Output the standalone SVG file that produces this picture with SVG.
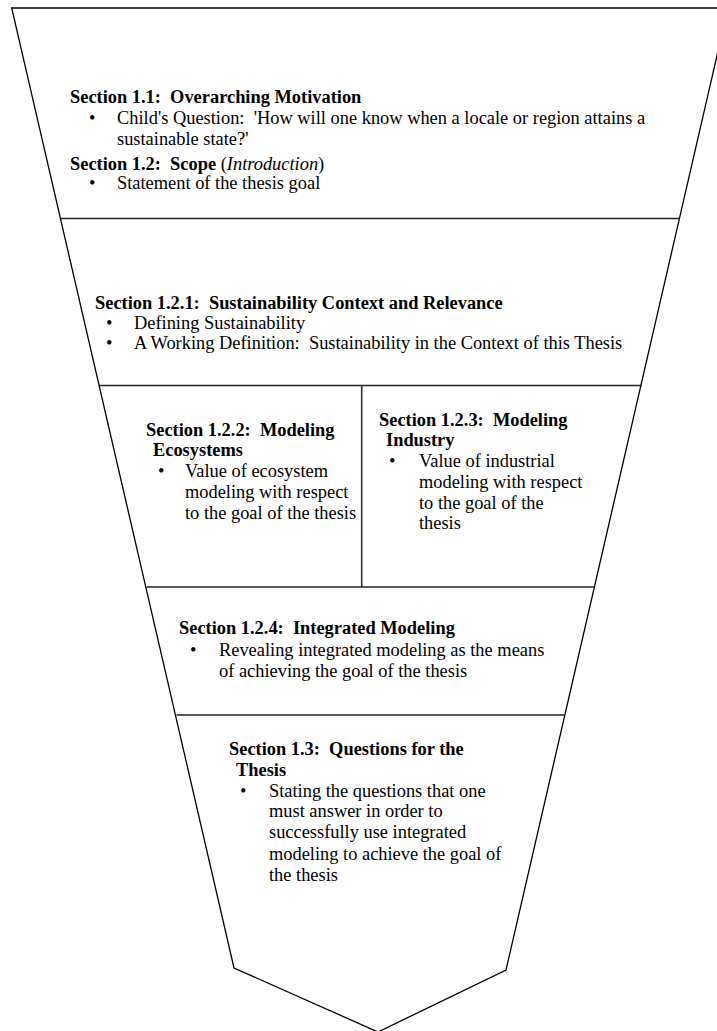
<svg xmlns="http://www.w3.org/2000/svg" width="717" height="1031" viewBox="0 0 717 1031" xml:space="preserve">
  <style>
    .t { font-family: "Liberation Serif", "Times New Roman", serif; font-size: 18.4px; fill: #000; white-space: pre; }
    .b { font-weight: bold; }
    .i { font-style: italic; }
    .edge { fill: none; stroke: #000; stroke-width: 1.3; }
    .rule { fill: none; stroke: #222; stroke-width: 1.4; }
    .div { fill: none; stroke: #333; stroke-width: 1.6; }
  </style>
  <rect width="717" height="1031" fill="#fff"/>

  <!-- funnel outline and section dividers -->
  <g id="connectors">
    <polygon class="edge" points="11.7,8 728,8 506,970 378,1032 234,968"/>
    <line class="rule" x1="60.7" y1="218.5" x2="680" y2="218.5"/>
    <line class="rule" x1="99.3" y1="385.5" x2="641.7" y2="385.5"/>
    <line class="div" x1="361.7" y1="385.5" x2="361.7" y2="587"/>
    <line class="rule" x1="146.5" y1="587" x2="594" y2="587"/>
    <line class="rule" x1="176.5" y1="715" x2="565" y2="715"/>
  </g>

  <g id="sec-1-1">
    <text class="t b" x="70" y="103">Section 1.1:  Overarching Motivation</text>
    <text class="t" x="89" y="124">•</text>
    <text class="t" x="117" y="124">Child's Question:  'How will one know when a locale or region attains a</text>
    <text class="t" x="117" y="145">sustainable state?'</text>
    <text class="t" x="70" y="170"><tspan class="b">Section 1.2:  Scope</tspan> (<tspan class="i">Introduction</tspan>)</text>
    <text class="t" x="89" y="189">•</text>
    <text class="t" x="117" y="189">Statement of the thesis goal</text>
  </g>

  <g id="sec-1-2-1">
    <text class="t b" x="95" y="309">Section 1.2.1:  Sustainability Context and Relevance</text>
    <text class="t" x="106" y="329">•</text>
    <text class="t" x="134" y="329">Defining Sustainability</text>
    <text class="t" x="106" y="349">•</text>
    <text class="t" x="134" y="349">A Working Definition:  Sustainability in the Context of this Thesis</text>
  </g>

  <g id="sec-1-2-2">
    <text class="t b" x="146" y="436">Section 1.2.2:  Modeling</text>
    <text class="t b" x="153" y="456">Ecosystems</text>
    <text class="t" x="158" y="477">•</text>
    <text class="t" x="185" y="477">Value of ecosystem</text>
    <text class="t" x="185" y="498">modeling with respect</text>
    <text class="t" x="185" y="519">to the goal of the thesis</text>
  </g>

  <g id="sec-1-2-3">
    <text class="t b" x="379" y="426">Section 1.2.3:  Modeling</text>
    <text class="t b" x="386" y="446">Industry</text>
    <text class="t" x="389" y="467">•</text>
    <text class="t" x="419" y="467">Value of industrial</text>
    <text class="t" x="419" y="488">modeling with respect</text>
    <text class="t" x="419" y="509">to the goal of the</text>
    <text class="t" x="419" y="529">thesis</text>
  </g>

  <g id="sec-1-2-4">
    <text class="t b" x="179" y="634">Section 1.2.4:  Integrated Modeling</text>
    <text class="t" x="190" y="656">•</text>
    <text class="t" x="219" y="656">Revealing integrated modeling as the means</text>
    <text class="t" x="219" y="677">of achieving the goal of the thesis</text>
  </g>

  <g id="sec-1-3">
    <text class="t b" x="229" y="755">Section 1.3:  Questions for the</text>
    <text class="t b" x="236" y="776">Thesis</text>
    <text class="t" x="240" y="797">•</text>
    <text class="t" x="269" y="797">Stating the questions that one</text>
    <text class="t" x="269" y="817">must answer in order to</text>
    <text class="t" x="269" y="838">successfully use integrated</text>
    <text class="t" x="269" y="860">modeling to achieve the goal of</text>
    <text class="t" x="269" y="881">the thesis</text>
  </g>
</svg>
